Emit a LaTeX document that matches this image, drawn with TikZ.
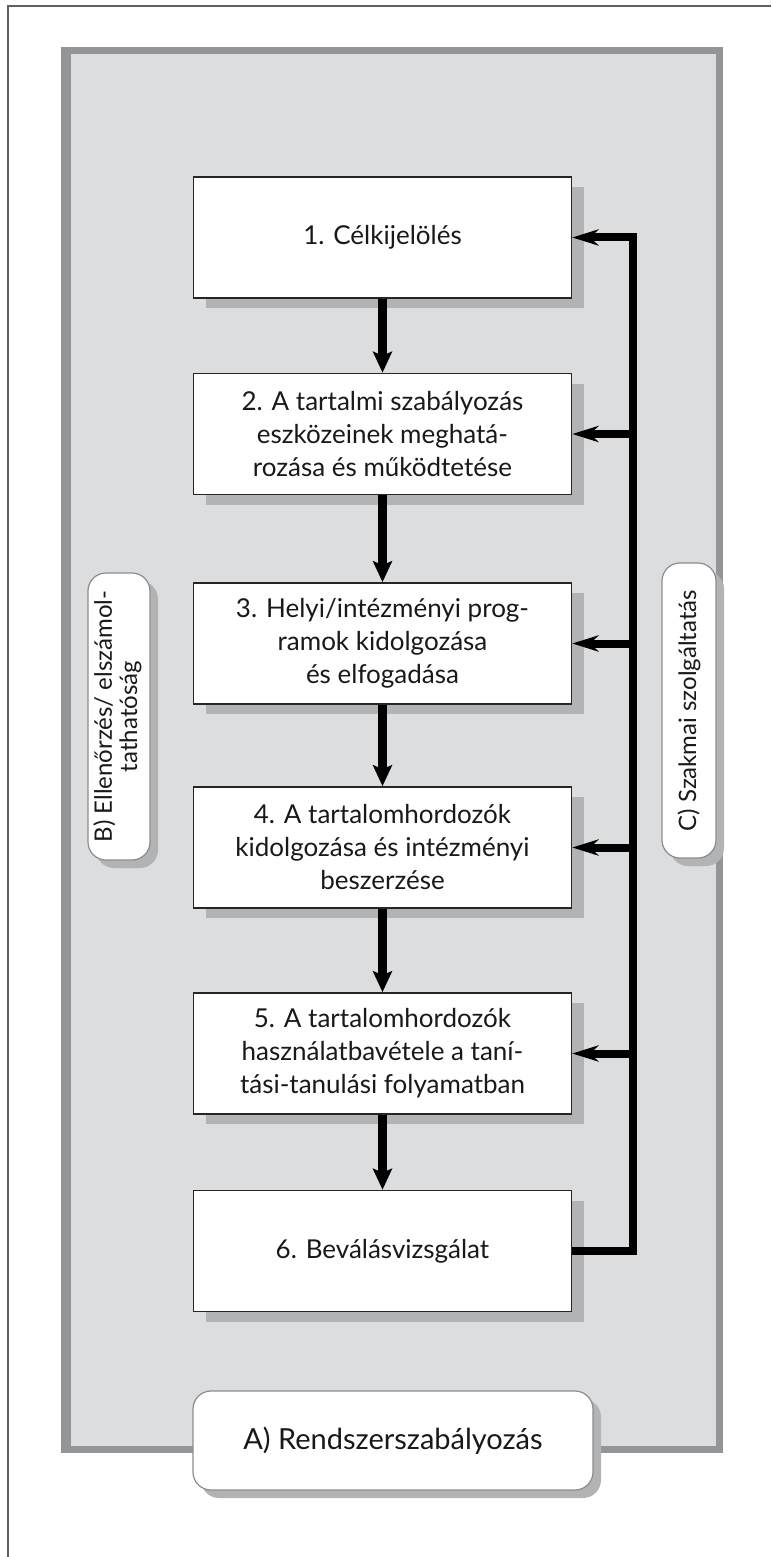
\documentclass[tikz,border=0pt]{standalone}
\usepackage{fontspec}
\usepackage{graphicx}
\setmainfont{Lato}
\usetikzlibrary{arrows.meta,shadows}
\definecolor{panelgray}{HTML}{DCDDDF}
\definecolor{bordergray}{HTML}{939598}
\definecolor{shadowgray}{HTML}{B2B3B5}
\definecolor{framegray}{HTML}{606060}
\tikzset{
  stepbox/.style={draw=black!85, line width=0.8pt, fill=white, align=center,
    minimum width=189pt, minimum height=60.5pt, inner sep=0pt, text=black!90,
    general shadow={fill=shadowgray, shadow xshift=6pt, shadow yshift=-5pt}},
  sidebox/.style={draw=black!45, line width=0.6pt, fill=white, rounded corners=9pt,
    inner sep=0pt, text=black!90,
    general shadow={fill=shadowgray, shadow xshift=4pt, shadow yshift=-4pt}},
  sidetext/.style={font=\fontsize{12}{12.5}\selectfont},
  flow/.style={line width=4.5pt, -{Stealth[length=10.5pt, width=9.5pt, inset=2pt]}},
  feed/.style={line width=4pt, -{Stealth[length=13pt, width=8pt, inset=4pt]}},
}
\begin{document}
\begin{tikzpicture}[x=0.5pt, y=0.5pt, font=\fontsize{13}{16.5}\selectfont, line join=miter]
\useasboundingbox (0,0) rectangle (771,-1557);
% frame and panel
\draw[framegray, line width=1pt] (8,-1557) -- (8,-6) -- (771,-6);
\draw[draw=bordergray, fill=panelgray, line width=3.5pt] (65,-50.5) rectangle (719.5,-1449.5);
\fill[bordergray] (61,-47) rectangle (71,-1453);
% steps
\node[stepbox] (s1) at (382.5,-237.5) {1. Célkijelölés};
\node[stepbox] (s2) at (382.5,-434) {2. A tartalmi szabályozás\\eszközeinek meghatá-\\rozása és működtetése};
\node[stepbox] (s3) at (382.5,-643.5) {3. Helyi/intézményi prog-\\ramok kidolgozása\\és elfogadása};
\node[stepbox] (s4) at (382.5,-847.5) {4. A tartalomhordozók\\kidolgozása és intézményi\\beszerzése};
\node[stepbox] (s5) at (382.5,-1053.5) {5. A tartalomhordozók\\használatbavétele a taní-\\tási-tanulási folyamatban};
\node[stepbox] (s6) at (382.5,-1251) {6. Beválásvizsgálat};
% side labels
\node[sidebox, sidetext, minimum width=31pt, minimum height=143.5pt] (ctrl) at (119,-716.5)
  {\rotatebox{90}{\begin{tabular}{@{}c@{}}B) Ellenőrzés/ elszámol-\\tathatóság\end{tabular}}};
\node[sidebox, sidetext, minimum width=27pt, minimum height=147.5pt] (serv) at (689,-710.5)
  {\rotatebox{90}{C) Szakmai szolgáltatás}};
\node[sidebox, minimum width=200pt, minimum height=49.5pt, font=\fontsize{14.5}{16}\selectfont] (sys) at (393,-1440.5)
  {A) Rendszerszabályozás};
% connectors
\coordinate (bus) at (633,0);
\foreach \i/\j in {1/2,2/3,3/4,4/5,5/6}
  \draw[flow] (s\i.south) -- (s\j.north);
\draw[feed] (s6.east) -| (bus |- s1.east) -- (s1.east);
\foreach \i in {2,...,5}
  \draw[feed] (bus |- s\i.east) -- (s\i.east);
\end{tikzpicture}
\end{document}
